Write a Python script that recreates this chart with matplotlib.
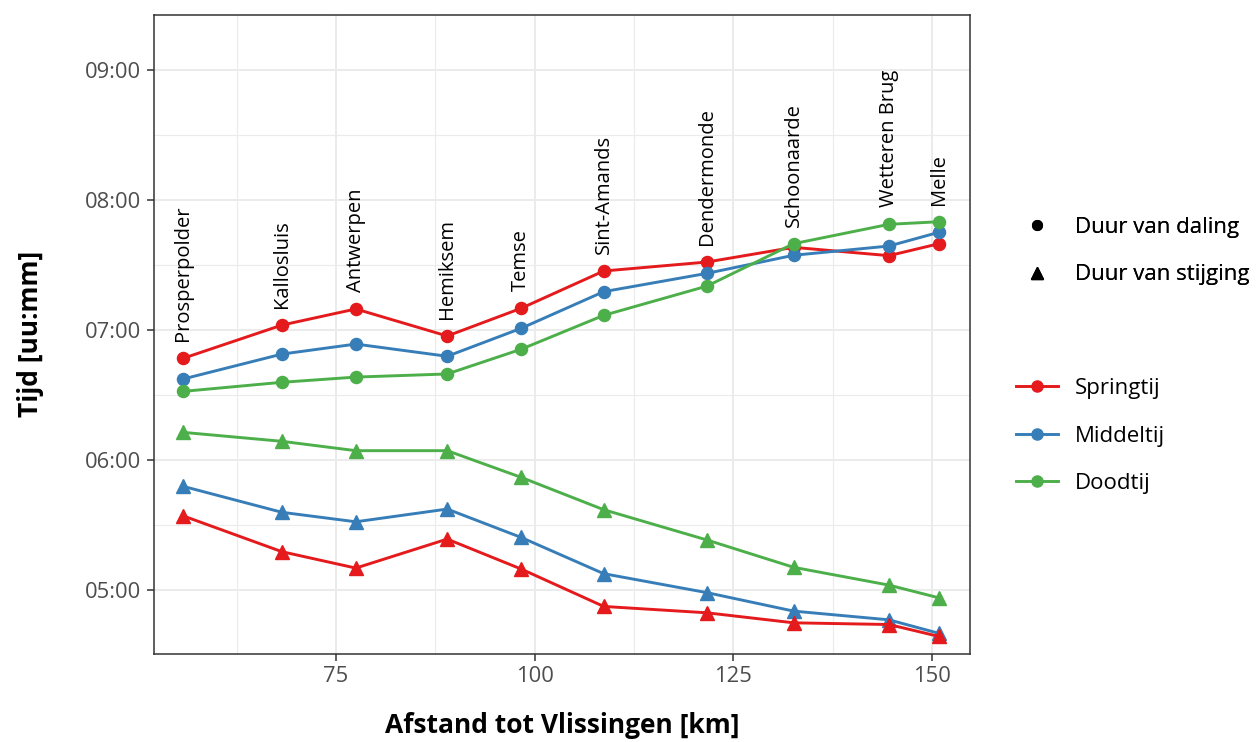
import matplotlib
matplotlib.use("Agg")
import matplotlib.pyplot as plt
from matplotlib.lines import Line2D
from matplotlib.ticker import FixedLocator, FuncFormatter

plt.rcParams['font.family'] = ['Open Sans', 'DejaVu Sans']

# ---- data ----
stations = ["Prosperpolder", "Kallosluis", "Antwerpen", "Hemiksem", "Temse",
            "Sint-Amands", "Dendermonde", "Schoonaarde", "Wetteren Brug", "Melle"]
km = [55.75, 68.2, 77.5, 89.0, 98.3, 108.7, 121.7, 132.6, 144.6, 150.9]

# duration in hours
daling_spring = [6.782, 7.038, 7.162, 6.954, 7.167, 7.454, 7.523, 7.636, 7.572, 7.664]
daling_middel = [6.623, 6.815, 6.892, 6.798, 7.013, 7.295, 7.436, 7.575, 7.646, 7.752]
daling_dood   = [6.528, 6.598, 6.638, 6.662, 6.852, 7.113, 7.338, 7.664, 7.813, 7.833]

stijging_spring = [5.571, 5.295, 5.169, 5.392, 5.162, 4.874, 4.825, 4.748, 4.735, 4.643]
stijging_middel = [5.798, 5.598, 5.525, 5.623, 5.405, 5.126, 4.980, 4.838, 4.771, 4.667]
stijging_dood   = [6.213, 6.144, 6.072, 6.072, 5.867, 5.618, 5.385, 5.175, 5.038, 4.940]

tide_names = ["Springtij", "Middeltij", "Doodtij"]
shape_names = ["Duur van daling", "Duur van stijging"]
colors = ["#E41A1C", "#377EB8", "#4DAF4A"]

x_ticks = [75, 100, 125, 150]
y_ticks = [5, 6, 7, 8, 9]

# ---- figure ----
W, H = 1258, 742
fig = plt.figure(figsize=(W / 100, H / 100), dpi=100)
ax = fig.add_axes([154 / W, 1 - 653.5 / H, (970 - 154) / W, (653.5 - 15) / H])

ax.set_xlim(52.1, 154.8)
ax.set_ylim(4.512, 9.423)

lw = 2.1
ms_c = 8.7
ms_t = 9.7

daling = [daling_spring, daling_middel, daling_dood]
stijging = [stijging_spring, stijging_middel, stijging_dood]
for vals, c in zip(daling, colors):
    ax.plot(km, vals, color=c, lw=lw, marker='o', ms=ms_c, zorder=3)
for vals, c in reversed(list(zip(stijging, colors))):
    ax.plot(km, vals, color=c, lw=lw, marker='^', ms=ms_t, zorder=3)

# station labels
for i, name in enumerate(stations):
    top = max(daling_spring[i], daling_middel[i], daling_dood[i])
    ax.text(km[i], top + 0.13, name, rotation=90, ha='center', va='bottom',
            fontsize=14.5, color='black', zorder=4)

# grid & ticks
ax.xaxis.set_major_locator(FixedLocator(x_ticks))
ax.xaxis.set_minor_locator(FixedLocator([62.5, 87.5, 112.5, 137.5]))
ax.yaxis.set_major_locator(FixedLocator(y_ticks))
ax.yaxis.set_minor_locator(FixedLocator([4.5, 5.5, 6.5, 7.5, 8.5]))
ax.yaxis.set_major_formatter(FuncFormatter(lambda v, p: f"{int(round(v)):02d}:00"))
ax.grid(which='major', color='#EBEBEB', lw=1.4, zorder=0)
ax.grid(which='minor', color='#EBEBEB', lw=0.8, zorder=0)
ax.set_axisbelow(True)
ax.tick_params(which='major', length=5, width=1.1, color='#333333',
               labelsize=15.8, labelcolor='#4D4D4D', pad=4)
ax.tick_params(which='minor', length=0)
for s in ax.spines.values():
    s.set_color('#333333')
    s.set_linewidth(1.1)

ax.set_xlabel("Afstand tot Vlissingen [km]", fontsize=19, fontweight='bold', labelpad=18)
ax.set_ylabel("Tijd [uu:mm]", fontsize=19, fontweight='bold', labelpad=30)

# legends
leg_kw = dict(frameon=False, fontsize=16, handlelength=1.9, labelspacing=1.2,
              handletextpad=0.75, borderaxespad=0, borderpad=0)
shape_handles = [Line2D([], [], color='black', marker='o', ls='none', ms=7),
                 Line2D([], [], color='black', marker='^', ls='none', ms=8)]
leg1 = fig.legend(shape_handles, shape_names, loc='center left',
                  bbox_to_anchor=(1016 / W, 1 - 251 / H), **leg_kw)
color_handles = [Line2D([], [], color=c, marker='o', lw=lw, ms=8) for c in colors]
leg2 = fig.legend(color_handles, tide_names, loc='center left',
                  bbox_to_anchor=(1016 / W, 1 - 436 / H), **leg_kw)
fig.add_artist(leg1)

fig.savefig("out.png", dpi=100)
